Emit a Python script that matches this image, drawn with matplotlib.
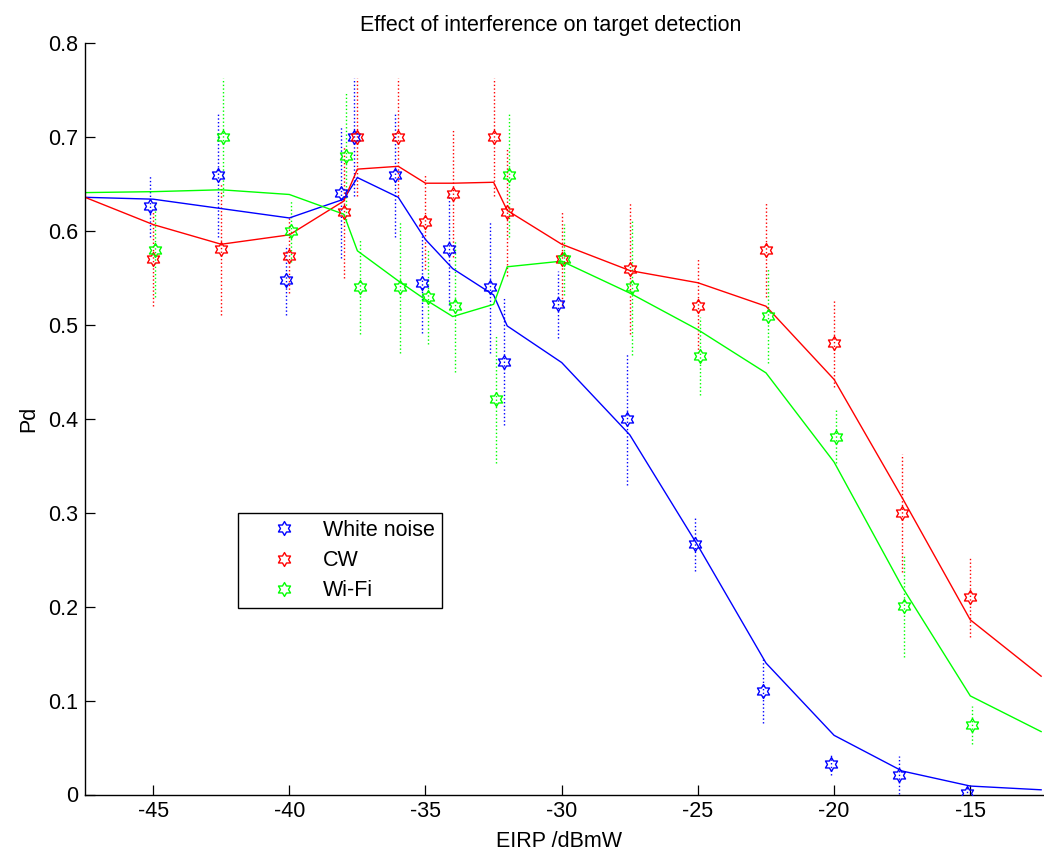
import matplotlib
matplotlib.use("Agg")
import matplotlib.pyplot as plt
from matplotlib.path import Path
from matplotlib.ticker import FuncFormatter

# Measured detection probability (mean and spread) per EIRP level
eirp = [-45, -42.5, -40, -38, -37.5, -36, -35, -34, -32.5, -32,
        -30, -27.5, -25, -22.5, -20, -17.5, -15]

wn_pd = [0.627, 0.660, 0.548, 0.641, 0.700, 0.660, 0.545, 0.581, 0.540, 0.461,
         0.522, 0.400, 0.267, 0.110, 0.032, 0.021, 0.002]
wn_err = [0.033, 0.066, 0.037, 0.070, 0.063, 0.066, 0.053, 0.060, 0.070, 0.068,
          0.036, 0.070, 0.029, 0.034, 0.011, 0.020, 0.008]

cw_pd = [0.570, 0.581, 0.574, 0.620, 0.700, 0.700, 0.610, 0.640, 0.700, 0.620,
         0.570, 0.560, 0.520, 0.580, 0.481, 0.300, 0.210]
cw_err = [0.050, 0.070, 0.040, 0.070, 0.063, 0.063, 0.050, 0.068, 0.063, 0.068,
          0.050, 0.070, 0.050, 0.050, 0.047, 0.063, 0.042]

wifi_pd = [0.580, 0.700, 0.600, 0.680, 0.540, 0.540, 0.530, 0.520, 0.421, 0.660,
           0.570, 0.540, 0.467, 0.510, 0.381, 0.201, 0.074]
wifi_err = [0.050, 0.063, 0.033, 0.068, 0.050, 0.070, 0.050, 0.070, 0.068, 0.066,
            0.038, 0.072, 0.042, 0.050, 0.028, 0.055, 0.020]

# Fitted trend curves
fit_eirp = [-47.5, -45, -42.5, -40, -38, -37.5, -36, -35, -34, -32.5, -32,
            -30, -27.5, -25, -22.5, -20, -17.5, -15, -12.4]
wn_fit = [0.636, 0.634, 0.624, 0.614, 0.634, 0.657, 0.636, 0.591, 0.560, 0.532, 0.499,
          0.460, 0.383, 0.265, 0.140, 0.063, 0.025, 0.009, 0.005]
cw_fit = [0.636, 0.607, 0.586, 0.596, 0.632, 0.666, 0.669, 0.651, 0.651, 0.652, 0.622,
          0.586, 0.558, 0.545, 0.520, 0.442, 0.316, 0.186, 0.126]
wifi_fit = [0.641, 0.642, 0.644, 0.639, 0.618, 0.579, 0.547, 0.527, 0.509, 0.522, 0.562,
            0.568, 0.534, 0.495, 0.449, 0.354, 0.221, 0.105, 0.067]

series_names = ["White noise", "CW", "Wi-Fi"]
x_ticks = [-45, -40, -35, -30, -25, -20, -15]
y_ticks = [0, 0.1, 0.2, 0.3, 0.4, 0.5, 0.6, 0.7, 0.8]

plt.rcParams["font.family"] = ["Liberation Sans", "DejaVu Sans"]
FS = 15.5

hexagram = Path.unit_regular_star(6, innerCircle=0.577)

X_MIN, X_MAX = -47.5, -12.2
PX_PER_UNIT = 27.24
ax_w_px = (X_MAX - X_MIN) * PX_PER_UNIT

fig = plt.figure(figsize=(10.44, 8.51), dpi=100)
ax = fig.add_axes([85 / 1044, 56.5 / 851, ax_w_px / 1044, 751.2 / 851])

series = [
    (wn_pd, wn_err, wn_fit, (0, 0, 1), -0.12),
    (cw_pd, cw_err, cw_fit, (1, 0, 0), 0.0),
    (wifi_pd, wifi_err, wifi_fit, (0, 1, 0), 0.08),
]

for (pd_vals, err, fit, color, shift), name in zip(series, series_names):
    xs = [v + shift for v in eirp]
    lo = [p - e for p, e in zip(pd_vals, err)]
    hi = [p + e for p, e in zip(pd_vals, err)]
    ax.vlines(xs, lo, hi, colors=[color], linestyles=":", linewidth=1.0)
    ax.plot(xs, pd_vals, linestyle="none", marker=hexagram, markersize=10,
            markerfacecolor="none", markeredgecolor=color, markeredgewidth=1.0,
            label=name, zorder=3)

for (pd_vals, err, fit, color, shift) in series:
    ax.plot(fit_eirp, fit, color=color, linewidth=1.0, zorder=2)

ax.set_xlim(X_MIN, X_MAX)
ax.set_ylim(0, 0.8)
ax.set_xticks(x_ticks)
ax.set_yticks(y_ticks)
ax.yaxis.set_major_formatter(FuncFormatter(lambda v, _: f"{v:g}"))
ax.xaxis.set_major_formatter(FuncFormatter(lambda v, _: f"{v:g}"))

for side in ("top", "right"):
    ax.spines[side].set_visible(False)
for side in ("left", "bottom"):
    ax.spines[side].set_linewidth(1.0)
    ax.spines[side].set_color("black")

ax.tick_params(direction="in", length=7, width=0.9, labelsize=FS, pad=5,
               colors="black")

ax_w = ax_w_px
ax.set_title("Effect of interference on target detection", fontsize=FS,
             x=(551 - 85) / ax_w, pad=8.5)
ax.set_xlabel("EIRP /dBmW", fontsize=FS)
ax.set_ylabel("Pd", fontsize=FS)
ax.xaxis.set_label_coords((558.5 - 85) / ax_w, -0.0486)
ax.yaxis.set_label_coords(-45.5 / ax_w, 0.5)

leg = ax.legend(loc="upper left", bbox_to_anchor=((238.3 - 85) / ax_w, 0.3743),
                borderaxespad=0, fontsize=FS, frameon=True, fancybox=False,
                edgecolor="black", framealpha=1, numpoints=1,
                handlelength=3.6, handletextpad=0.05, borderpad=0.3,
                labelspacing=0.43)
leg.get_frame().set_linewidth(1.0)

fig.savefig("out.png", dpi=100)
